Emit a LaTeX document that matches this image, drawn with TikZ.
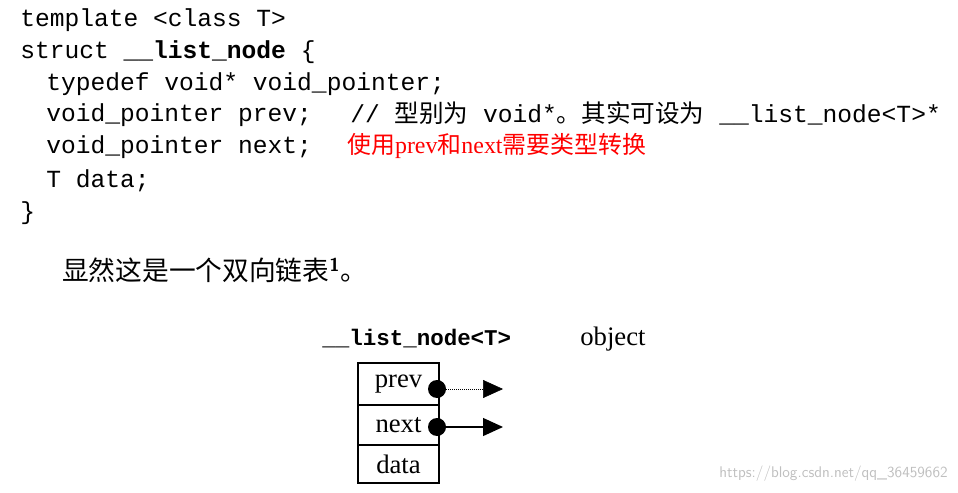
\documentclass[tikz,border=0pt]{standalone}
\usetikzlibrary{arrows.meta}
\usepackage{fontspec}
\setmonofont{Liberation Mono}
\setmainfont{Liberation Serif}
\newfontfamily\cjk{Noto Sans CJK SC}
\begin{document}
\begin{tikzpicture}[x=0.25mm,y=-0.25mm,
  code/.style={anchor=west,inner sep=0,font=\fontsize{17.5}{20}\ttfamily},
  cell/.style={draw,line width=0.9pt,minimum width=81*0.25mm,inner sep=0,font=\fontsize{19}{22}\selectfont},
  dot/.style={circle,fill,inner sep=0,minimum size=4.5mm}]
\useasboundingbox (0,0) rectangle (958,493);
\node[code] (l1) at (20,20) {template <class T>};
\node[code] (l2) at (20,52) {struct \textbf{\_\_list\_node} \{};
\node[code] (l3) at (46,84) {typedef void* void\_pointer;};
\node[code] (l4) at (46,115) {void\_pointer prev;};
\node[code] (l4c) at (350,113) {// {\cjk 型别为} void*{\cjk 。其实可设为} \_\_list\_node<T>*};
\node[code] (l5) at (46,147) {void\_pointer next;};
\node[anchor=west,inner sep=0,text=red,font=\fontsize{17}{20}\selectfont] (l5c) at (347,146) {\cjk 使用\rmfamily prev\cjk 和\rmfamily next\cjk 需要类型转换};
\node[code] (l6) at (46,181) {T data;};
\node[code] (l7) at (20,213) {\}};
\node[anchor=west,inner sep=0,font=\fontsize{19}{22}\cjk] (txt) at (62,270) {显然这是一个双向链表\textsuperscript{\sffamily\bfseries 1}。};
\node[anchor=base west,inner sep=0,font=\fontsize{16}{20}\ttfamily\bfseries] (title) at (322,345) {\_\_list\_node<T>};
\node[anchor=base west,inner sep=0,font=\fontsize{19}{24}\selectfont] (obj) at (580,345) {object};
\node[cell,minimum height=42*0.25mm] (prev) at (398.5,384) {prev};
\node[cell,minimum height=40*0.25mm] (next) at (398.5,425) {next};
\node[cell,minimum height=38*0.25mm] (data) at (398.5,464) {data};
\node[dot] (d1) at (437,389) {};
\node[dot] (d2) at (437,427) {};
\coordinate (e1) at (503,389);
\coordinate (e2) at (503,427);
\draw[densely dotted,-{Triangle[length=5mm,width=4.5mm]}] (d1) -- (e1);
\draw[line width=0.9pt,-{Triangle[length=5mm,width=4.5mm]}] (d2) -- (e2);
\node[anchor=east,inner sep=0,text=gray!50,font=\fontsize{11}{13}\sffamily] (wm) at (948,474) {https://blog.csdn.net/qq\_36459662};
\end{tikzpicture}
\end{document}
